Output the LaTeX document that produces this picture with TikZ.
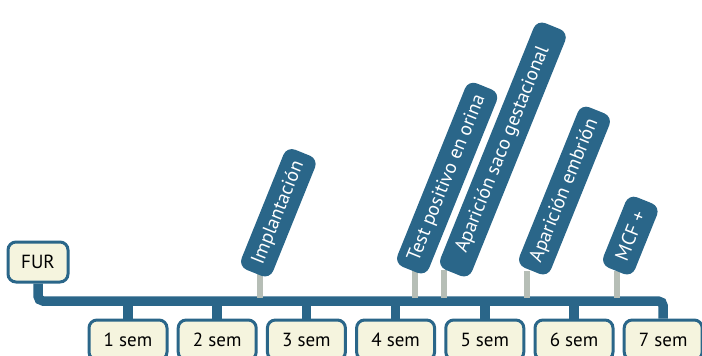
\documentclass[tikz,border=0pt]{standalone}
\usepackage{fontspec}
\setmainfont{PT Sans}
\definecolor{barblue}{HTML}{2A6689}
\definecolor{weekfill}{HTML}{F5F4DE}
\definecolor{stemgray}{HTML}{B6BEB6}
\tikzset{
  week/.style={draw=barblue,line width=3pt,fill=weekfill,rounded corners=8pt,
    minimum width=78pt,minimum height=40pt,inner sep=0pt,
    font=\fontsize{19}{22}\selectfont},
  bar/.style={draw=barblue,line width=9.5pt},
  stem/.style={draw=stemgray,line width=6.5pt},
  event/.style={fill=barblue,text=white,rounded corners=9pt,rotate=68,anchor=west,
    inner xsep=10pt,inner ysep=0pt,minimum height=34pt,
    font=\fontsize{19.5}{22}\selectfont}
}
\begin{document}
\begin{tikzpicture}[x=1pt,y=-1pt]
\useasboundingbox (0,0) rectangle (702,356);
\node[week,minimum width=60pt] (fur) at (38,262) {FUR};
\foreach \i in {1,...,7}
  \node[week] (w\i) at ({128+89.2*(\i-1)},340) {\i\ sem};
\coordinate (barline) at (0,301);
% timeline from FUR to the last week
\draw[bar,rounded corners=5pt] (fur.south) -- (fur.south |- barline) -- (w7.north |- barline) -- (w7.north);
\foreach \i in {1,...,6}
  \draw[bar] (w\i.north) -- (w\i.north |- barline);
% stems of the events
\coordinate (s1) at (260,298);
\coordinate (s2) at (415,298);
\coordinate (s3) at (444,298);
\coordinate (s4) at (527,298);
\coordinate (s5) at (617,298);
\draw[stem] (s1) -- (s1 |- 0,272);
\draw[stem] (s2) -- (s2 |- 0,270);
\draw[stem] (s3) -- (s3 |- 0,270);
\draw[stem] (s4) -- (s4 |- 0,271);
\draw[stem] (s5) -- (s5 |- 0,271);
\node[event,minimum width=266pt] (saco) at (453,273) {Aparición saco gestacional};
\node[event,minimum width=128pt] (imp) at (254,273) {Implantación};
\node[event,minimum width=197pt] (test) at (410,270) {Test positivo en orina};
\node[event,minimum width=170pt] (emb) at (532,271) {Aparición embrión};
\node[event,minimum width=76pt] (mcf) at (616,271) {MCF +};
\end{tikzpicture}
\end{document}
